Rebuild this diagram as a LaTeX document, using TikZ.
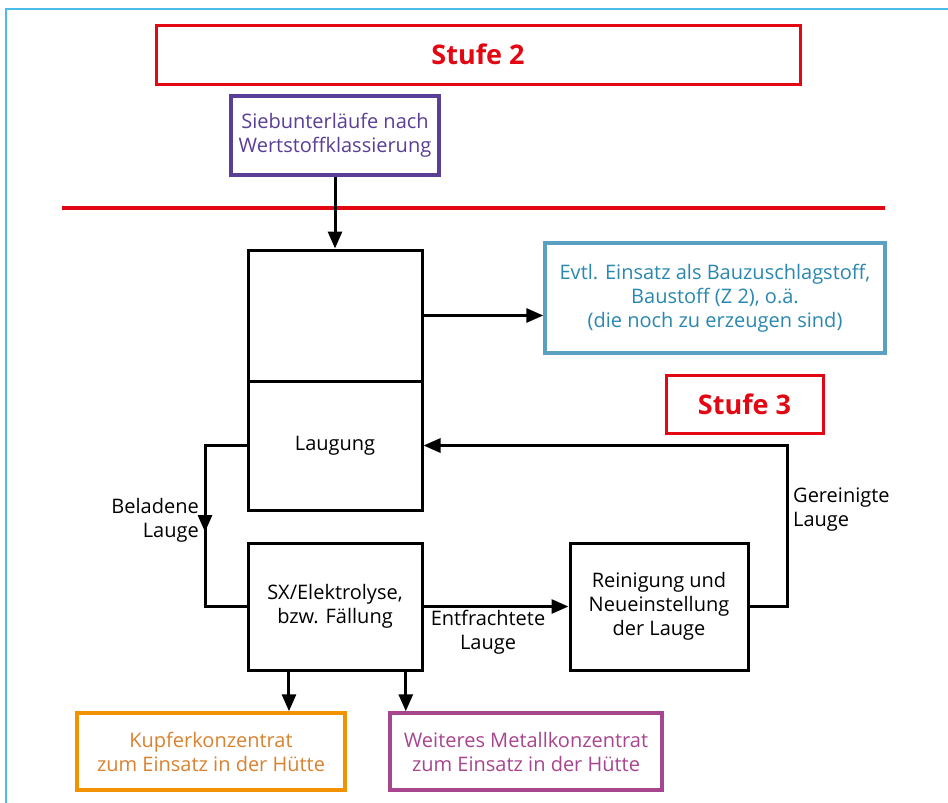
\documentclass[tikz,border=0pt]{standalone}
\usepackage{fontspec}
\setmainfont{Open Sans}
\usetikzlibrary{arrows.meta,calc}
\definecolor{frameblue}{HTML}{4BBCE8}
\definecolor{stred}{HTML}{E30613}
\definecolor{purp}{HTML}{5B3E96}
\definecolor{boxblue}{HTML}{5AA0C0}
\definecolor{txtblue}{HTML}{2A88B0}
\definecolor{orng}{HTML}{F39200}
\definecolor{orngtxt}{HTML}{D98230}
\definecolor{mag}{HTML}{A8458F}
\begin{document}
\begin{tikzpicture}[x=1pt,y=-1pt,
  base/.style={rectangle, inner sep=0pt, align=center, font=\fontsize{20}{24}\selectfont},
  blk/.style={base, draw=black, line width=3pt},
  colbox/.style={base, line width=3.5pt},
  stufe/.style={base, draw=stred, line width=3pt, text=stred, font=\fontsize{27}{30}\selectfont\bfseries},
  lbl/.style={inner sep=0pt, font=\fontsize{20}{24}\selectfont},
  conn/.style={line width=3pt},
  flow/.style={line width=3pt, -{Triangle[length=17pt,width=14pt]}},
]
\useasboundingbox (0,0) rectangle (948,803);
\fill[white] (0,0) rectangle (948,803);
\draw[frameblue, line width=2.5pt] (6,803) -- (6,9) -- (948,9);

\node[stufe, minimum width=644pt, minimum height=59pt] (s2) at (478,54.5) {Stufe 2};
\node[colbox, draw=purp, text=purp, minimum width=208pt, minimum height=79pt] (sieb) at (335,135.5) {Siebunterläufe nach\\Wertstoffklassierung};
\draw[stred, line width=4pt] (62,208) -- (885,208);

\node[blk, minimum width=174pt, minimum height=131pt] (top) at (335,315.5) {};
\node[blk, minimum width=174pt, minimum height=129pt] (laug) at (335,445.5) {Laugung};
\node[colbox, draw=boxblue, text=txtblue, minimum width=340pt, minimum height=110pt] (evtl) at (715,298) {Evtl. Einsatz als Bauzuschlagstoff,\\Baustoff (Z 2), o.ä.\\(die noch zu erzeugen sind)};
\node[stufe, minimum width=157pt, minimum height=58pt] (s3) at (744.5,404) {Stufe 3};

\node[blk, minimum width=174pt, minimum height=127pt] (sx) at (335,606.5) {SX/Elektrolyse,\\bzw. Fällung};
\node[blk, minimum width=178pt, minimum height=127pt] (rein) at (659,606.5) {Reinigung und\\Neueinstellung\\der Lauge};

\node[colbox, draw=orng, text=orngtxt, minimum width=268pt, minimum height=77pt] (kup) at (211,751.5) {Kupferkonzentrat\\zum Einsatz in der Hütte};
\node[colbox, draw=mag, text=mag, minimum width=272pt, minimum height=77pt] (met) at (526,751.5) {Weiteres Metallkonzentrat\\zum Einsatz in der Hütte};

\draw[flow] (sieb.south) -- (top.north);
\draw[flow] (top.east) -- (top.east -| evtl.west);

\coordinate (lt) at (205,445.5);
\coordinate (lm) at (205,532);
\coordinate (lb) at (205,606.5);
\draw[conn] (laug.west) -- (lt) -- (lb) -- (sx.west);
\draw[flow] (lt) -- (lm);
\node[lbl, anchor=east, align=right] (bel) at (199,520) {Beladene\\Lauge};

\draw[flow] (sx.east) -- (rein.west);
\node[lbl, align=center] (entf) at (488,632) {Entfrachtete\\Lauge};

\coordinate (rx) at (787,500);
\draw[flow] (rein.east) -- (rein.east -| rx) |- (laug.east);
\node[lbl, anchor=west, align=left] (ger) at (793,510) {Gereinigte\\Lauge};

\coordinate (a1) at ($(sx.south west)!0.24!(sx.south east)$);
\coordinate (a2) at ($(sx.south west)!0.90!(sx.south east)$);
\draw[flow] (a1) -- (a1 |- kup.north);
\draw[flow] (a2) -- (a2 |- met.north);
\end{tikzpicture}
\end{document}
